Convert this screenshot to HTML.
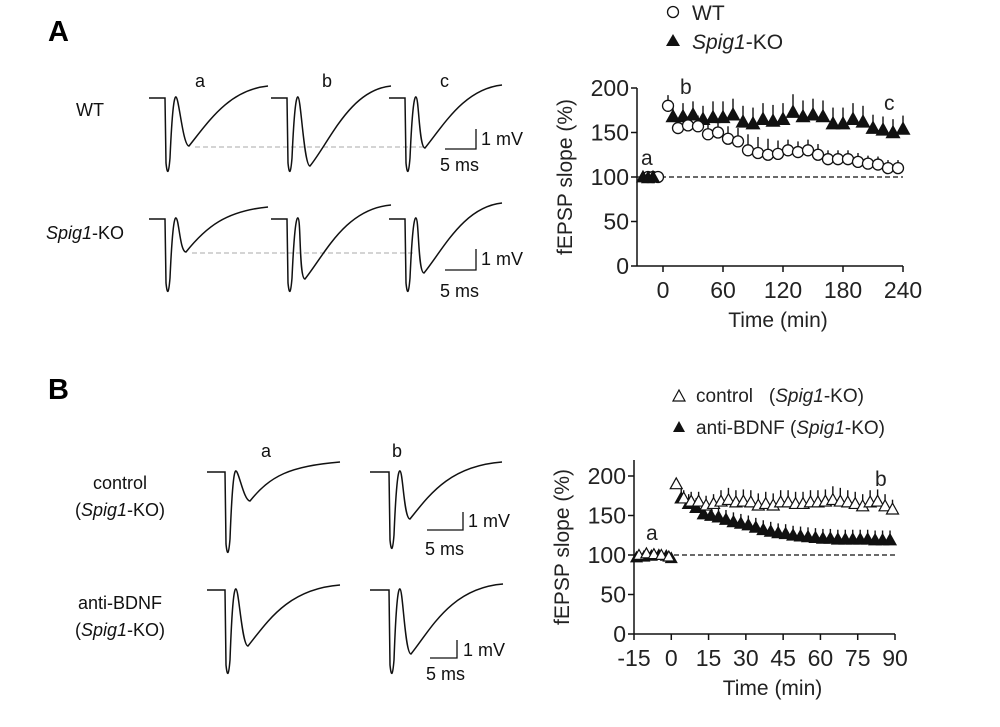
<!DOCTYPE html>
<html><head><meta charset="utf-8"><style>
body{margin:0;background:#fff}
svg{display:block;font-family:"Liberation Sans",Arial,sans-serif}
</style></head><body>
<svg id="fig" width="1000" height="727" viewBox="0 0 1000 727">
<text x="48" y="41" font-size="29" font-weight="bold">A</text>
<text x="48" y="399" font-size="29" font-weight="bold">B</text>
<g font-size="18" fill="#111">
<text x="76" y="116">WT</text>
<text x="46" y="239"><tspan font-style="italic">Spig1</tspan>-KO</text>
<text x="195" y="87">a</text>
<text x="322" y="87">b</text>
<text x="440" y="87">c</text>
<text x="481" y="145">1 mV</text>
<text x="440" y="171">5 ms</text>
<text x="481" y="265">1 mV</text>
<text x="440" y="297">5 ms</text>
<text x="120" y="489" text-anchor="middle">control</text>
<text x="120" y="516" text-anchor="middle">(<tspan font-style="italic">Spig1</tspan>-KO)</text>
<text x="120" y="609" text-anchor="middle">anti-BDNF</text>
<text x="120" y="636" text-anchor="middle">(<tspan font-style="italic">Spig1</tspan>-KO)</text>
<text x="261" y="457">a</text>
<text x="392" y="457">b</text>
<text x="468" y="527">1 mV</text>
<text x="425" y="555">5 ms</text>
<text x="463" y="656">1 mV</text>
<text x="426" y="680">5 ms</text>
</g>
<g stroke="#111" stroke-width="1.3" fill="none">
<path d="M445 149H476V129"/>
<path d="M445 270H476V249"/>
<path d="M427 530H463V512"/>
<path d="M430 658H457V640"/>
</g>
<line x1="195" y1="147" x2="426" y2="147" stroke="#aaa" stroke-dasharray="5,3"/>
<line x1="192" y1="253" x2="416" y2="253" stroke="#aaa" stroke-dasharray="5,3"/>
<g id="traces" stroke="#111" stroke-width="1.5" fill="none"></g>
<g id="chartA"></g>
<g id="chartB"></g>
</svg>
<script>
const NS="http://www.w3.org/2000/svg";
function mk(p,tag,at){const e=document.createElementNS(NS,tag);for(const k in at)e.setAttribute(k,at[k]);p.appendChild(e);return e;}
// traces: x0, base, dropX, minY, troughX, troughY, endX, endY
const traceDefs=[
[149,98,168,178,189,146,268,86],[271,98,290,178,310,166,391,86],[389,98,408,178,425,148,502,85],
[149,219,168,298,186,252,268,207],[271,219,290,298,305,279,391,205],[389,219,408,298,424,273,502,203],
[207,472,228,559,250,501,340,462],[370,472,392,555,410,519,502,462],
[207,590,228,680,248,646,340,585],[370,590,392,680,411,654,503,584]];
const tg=document.getElementById('traces');
traceDefs.forEach((t,i)=>{const [x0,b,dx,my,tx,ty,ex,ey]=t;
const d=`M${x0} ${b}H${dx-3}L${dx-2} ${my-15}Q${dx} ${my+4},${dx+2} ${my-20}C${dx+4} ${b+15},${dx+6} ${b-2},${dx+8} ${b-1}C${dx+11} ${b},${tx-6} ${ty},${tx} ${ty}C${tx+20} ${ty-25},${tx+40} ${ey+4},${ex} ${ey}`;
const p=mk(tg,'path',{d});

});

// Chart A data
const aWtBaseT=[-15,-10,-5];
const aWtBaseV=[100,100,100];
const aKoBaseT=[-20,-15,-10];
const aKoBaseV=[100,99,100];
const aWtT=[5,15,25,35,45,55,65,75,85,95,105,115,125,135,145,155,165,175,185,195,205,215,225,235];
const aWtV=[180,155,158,157,148,150,143,140,130,127,125,126,130,128,130,125,120,120,120,117,115,114,110,110];
const aWtE=[12,8,10,12,14,14,14,15,18,18,18,15,12,12,12,12,10,10,10,10,9,9,9,9];
const aKoT=[10,20,30,40,50,60,70,80,90,100,110,120,130,140,150,160,170,180,190,200,210,220,230,240];
const aKoV=[168,168,170,165,167,167,170,162,160,165,163,165,173,168,170,168,160,160,165,162,155,153,150,154];
const aKoE=[15,15,15,15,18,18,18,18,18,18,18,18,20,18,18,18,18,18,18,18,15,15,15,15];
const aXTicks=[0,60,120,180,240];
const aYTicks=[0,50,100,150,200];
// Chart B data
const bCtlBaseT=[-13,-10,-7,-4,-1];
const bCtlBaseV=[100,102,101,100,98];
const bAntiBaseT=[-14,-11,-8,-5,-2,0];
const bAntiBaseV=[97,98,99,100,99,96];
const bCtlT=[2,5,8,11,14,17,20,23,26,29,32,35,38,41,44,47,50,53,56,59,62,65,68,71,74,77,80,83,86,89];
const bCtlV=[190,172,168,168,163,165,168,170,167,168,167,163,165,163,167,167,165,165,167,167,168,170,168,167,165,162,167,168,162,158];
const bCtlE=[5,10,12,12,12,12,14,15,15,15,15,15,15,15,15,15,15,15,15,15,15,17,17,15,15,15,15,15,15,12];
const bAntiT=[4,7,10,13,16,19,22,25,28,31,34,37,40,43,46,49,52,55,58,61,64,67,70,73,76,79,82,85,88];
const bAntiV=[172,165,160,152,150,148,145,142,140,138,135,132,130,128,127,125,124,123,122,121,121,120,120,120,120,120,119,119,119];
const bAntiE=[12,12,12,12,12,12,12,12,12,12,12,12,12,12,12,12,12,12,12,12,12,12,12,12,12,12,12,12,12];
const bXTicks=[-15,0,15,30,45,60,75,90];
const bYTicks=[0,50,100,150,200];

function chart(g,cfg){
 const X=t=>cfg.x0+(t-cfg.t0)*(cfg.x1-cfg.x0)/(cfg.t1-cfg.t0);
 const Y=v=>cfg.y0+(v)*(cfg.y200-cfg.y0)/200;
 let e;
 e=mk(g,'line',{x1:cfg.ax,y1:cfg.yTop,x2:cfg.ax,y2:Y(0),stroke:'#111','stroke-width':1.5});
 
 e=mk(g,'line',{x1:cfg.ax,y1:Y(0),x2:X(cfg.t1),y2:Y(0),stroke:'#111','stroke-width':1.5});
 
 cfg.yt.forEach(v=>{mk(g,'line',{x1:cfg.ax-6,y1:Y(v),x2:cfg.ax,y2:Y(v),stroke:'#111','stroke-width':1.5});
  e=mk(g,'text',{x:cfg.ax-8,y:Y(v)+8,'text-anchor':'end','font-size':23,fill:'#222'});e.textContent=v;
  });
 cfg.xt.forEach(t=>{mk(g,'line',{x1:X(t),y1:Y(0),x2:X(t),y2:Y(0)+6,stroke:'#111','stroke-width':1.5});
  e=mk(g,'text',{x:X(t),y:Y(0)+32,'text-anchor':'middle','font-size':23,fill:'#222'});e.textContent=t;
  });
 e=mk(g,'line',{x1:cfg.ax,y1:Y(100),x2:X(cfg.t1),y2:Y(100),stroke:'#111','stroke-width':1.2,'stroke-dasharray':'5,3'});
 
 e=mk(g,'text',{x:(cfg.ax+X(cfg.t1))/2+8,y:Y(0)+61,'text-anchor':'middle','font-size':21,fill:'#222'});e.textContent='Time (min)';
 
 const cy=(Y(0)+cfg.yTop)/2;
 e=mk(g,'text',{x:0,y:0,transform:`translate(${cfg.ax-65},${cy}) rotate(-90)`,'text-anchor':'middle','font-size':21,fill:'#222'});e.textContent='fEPSP slope (%)';
 
 cfg.series.forEach(s=>{
  const sg=mk(g,'g',{});
  s.t.forEach((t,i)=>{const x=X(t),y=Y(s.v[i]);
   if(s.e){mk(sg,'line',{x1:x,y1:y,x2:x,y2:Y(s.v[i]+s.e[i]),stroke:'#111','stroke-width':1.4});}
   let m;
   if(s.m==='circle')m=mk(sg,'circle',{cx:x,cy:y,r:5.5,fill:'#fff',stroke:'#111','stroke-width':1.3});
   else{const r=s.r||6;m=mk(sg,'path',{d:`M${x} ${y-r}L${x+r} ${y+r*0.8}L${x-r} ${y+r*0.8}Z`,fill:s.m==='tri'?'#111':'#fff',stroke:'#111','stroke-width':1.2});}
   });
 });
 return {X,Y};
}
const gA=document.getElementById('chartA');
const A=chart(gA,{id:'chart-a',x0:663,x1:903,t0:0,t1:240,ax:637,y0:266,y200:88,yTop:88,xt:aXTicks,yt:aYTicks,
 series:[{name:'wt-baseline',t:aWtBaseT,v:aWtBaseV,m:'circle'},{name:'ko-baseline',t:aKoBaseT,v:aKoBaseV,m:'tri'},
 {name:'ko-series',t:aKoT,v:aKoV,e:aKoE,m:'tri',r:6.5},{name:'wt-series',t:aWtT,v:aWtV,e:aWtE,m:'circle'}]});
const gB=document.getElementById('chartB');
const B=chart(gB,{id:'chart-b',x0:634,x1:895,t0:-15,t1:90,ax:634,y0:634,y200:476,yTop:460,xt:bXTicks,yt:bYTicks,
 series:[{name:'anti-baseline',t:bAntiBaseT,v:bAntiBaseV,m:'tri',r:5.5},{name:'ctl-baseline',t:bCtlBaseT,v:bCtlBaseV,m:'open',r:5.5},
 {name:'anti-series',t:bAntiT,v:bAntiV,e:bAntiE,m:'tri',r:6},{name:'ctl-series',t:bCtlT,v:bCtlV,e:bCtlE,m:'open',r:6}]});
function txt(p,x,y,s,name,size){const e=mk(p,'text',{x,y,'font-size':size||21,fill:'#222'});e.innerHTML=s;return e;}
txt(gA,641,165,'a','chart-a-label-a');
txt(gA,680,94,'b','chart-a-label-b');
txt(gA,884,110,'c','chart-a-label-c');
txt(gB,646,540,'a','chart-b-label-a');
txt(gB,875,486,'b','chart-b-label-b');
// legends
mk(gA,'circle',{cx:673,cy:12,r:5.5,fill:'#fff',stroke:'#111','stroke-width':1.3});
txt(gA,692,20,'WT','legend-wt-label');
mk(gA,'path',{d:'M673 34L680 46L666 46Z',fill:'#111'});
txt(gA,692,49,'<tspan font-style="italic">Spig1</tspan>-KO','legend-ko-label');
mk(gB,'path',{d:'M679 390L685 401L673 401Z',fill:'#fff',stroke:'#111','stroke-width':1.2});
txt(gB,696,402,'control &#160;&#160;(<tspan font-style="italic">Spig1</tspan>-KO)','legend-control-label',19);
mk(gB,'path',{d:'M679 421L685 432L673 432Z',fill:'#111'});
txt(gB,696,434,'anti-BDNF (<tspan font-style="italic">Spig1</tspan>-KO)','legend-antibdnf-label',19);
</script>
</body></html>
